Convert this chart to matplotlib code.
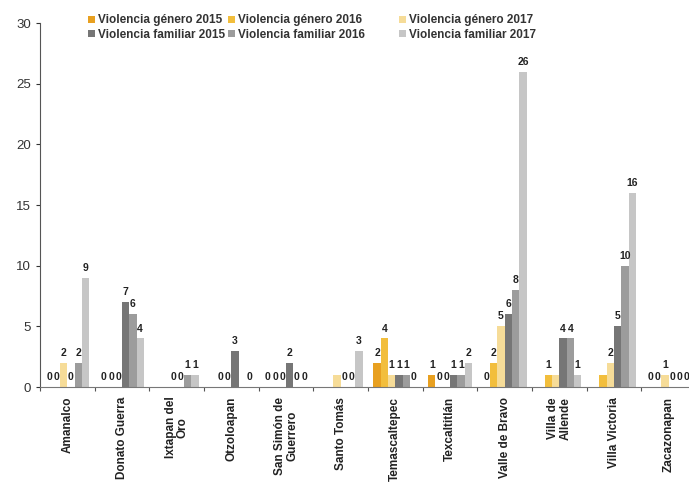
import numpy as np
import matplotlib
matplotlib.use("Agg")
import matplotlib.pyplot as plt

plt.rcParams["font.family"] = ["Liberation Sans", "DejaVu Sans"]

nan = np.nan

municipios = ["Amanalco", "Donato Guerra", "Ixtapan del\nOro", "Otzoloapan",
              "San Simón de\nGuerrero", "Santo Tomás", "Temascaltepec",
              "Texcaltitlán", "Valle de Bravo", "Villa de\nAllende",
              "Villa Victoria", "Zacazonapan"]

genero_2015 = [0, 0, nan, nan, 0, nan, 2, 1, 0, nan, nan, 0]
genero_2016 = [0, 0, nan, 0, 0, nan, 4, 0, 2, 1, 1, 0]
genero_2017 = [2, 0, 0, 0, 0, 1, 1, 0, 5, 1, 2, 1]
familiar_2015 = [0, 7, 0, 3, 2, 0, 1, 1, 6, 4, 5, 0]
familiar_2016 = [2, 6, 1, nan, 0, 0, 1, 1, 8, 4, 10, 0]
familiar_2017 = [9, 4, 1, 0, 0, 3, 0, 2, 26, 1, 16, 0]

series = [
    ("Violencia género 2015", genero_2015, "#e8a020"),
    ("Violencia género 2016", genero_2016, "#f2be3c"),
    ("Violencia género 2017", genero_2017, "#f6dc98"),
    ("Violencia familiar 2015", familiar_2015, "#767676"),
    ("Violencia familiar 2016", familiar_2016, "#9c9c9c"),
    ("Violencia familiar 2017", familiar_2017, "#c6c6c6"),
]

# value labels the original leaves out: (series index, municipio index)
sin_etiqueta = {(2, 5), (2, 9), (1, 10)}

fig = plt.figure(figsize=(6.89, 4.88), dpi=100)
ax = fig.add_axes([40 / 689, 101 / 488, 656 / 689, 364 / 488])

x = np.arange(len(municipios))
w = 0.8 / 6
handles = []
for i, (name, vals, color) in enumerate(series):
    vals = np.array(vals, dtype=float)
    pos = x + (i - 2.5) * w
    ok = ~np.isnan(vals)
    bars = ax.bar(pos[ok], vals[ok], width=w, color=color, label=name)
    handles.append(bars)
    for j in np.where(ok)[0]:
        if (i, j) in sin_etiqueta:
            continue
        v = vals[j]
        ax.text(pos[j], v + 0.4, "%d" % v, ha="center", va="bottom",
                fontsize=7.5, fontweight="bold", color="#222222")

ax.set_xlim(-0.5, len(municipios) - 0.5)
ax.set_ylim(0, 30)
ax.set_yticks(range(0, 31, 5))
ax.tick_params(axis="y", labelsize=9.5, colors="#333333", length=3, width=0.8)

ax.set_xticks(np.arange(len(municipios) + 1) - 0.5)
ax.set_xticklabels([])
ax.tick_params(axis="x", which="major", length=3, color="#555555")
ax.set_xticks(x, minor=True)
ax.set_xticklabels(municipios, minor=True, rotation=90, fontsize=8.5,
                   fontweight="bold", color="#222222", va="top", ha="center",
                   linespacing=1.0)
ax.tick_params(axis="x", which="minor", length=0, pad=7)

for s in ["top", "right"]:
    ax.spines[s].set_visible(False)
ax.spines["left"].set_color("#555555")
ax.spines["bottom"].set_color("#777777")

leg_x = [79 / 689, 219 / 689, 390 / 689]
for k in range(3):
    lg = fig.legend([handles[k], handles[k + 3]],
                    [series[k][0], series[k + 3][0]],
                    loc="upper left", bbox_to_anchor=(leg_x[k], 0.99),
                    frameon=False, fontsize=8.5, handlelength=0.55,
                    handleheight=0.55, handletextpad=0.25, labelspacing=0.2,
                    borderpad=0.3)
    for t in lg.get_texts():
        t.set_fontweight("bold")
        t.set_color("#333333")

fig.savefig("out.png", dpi=100)
